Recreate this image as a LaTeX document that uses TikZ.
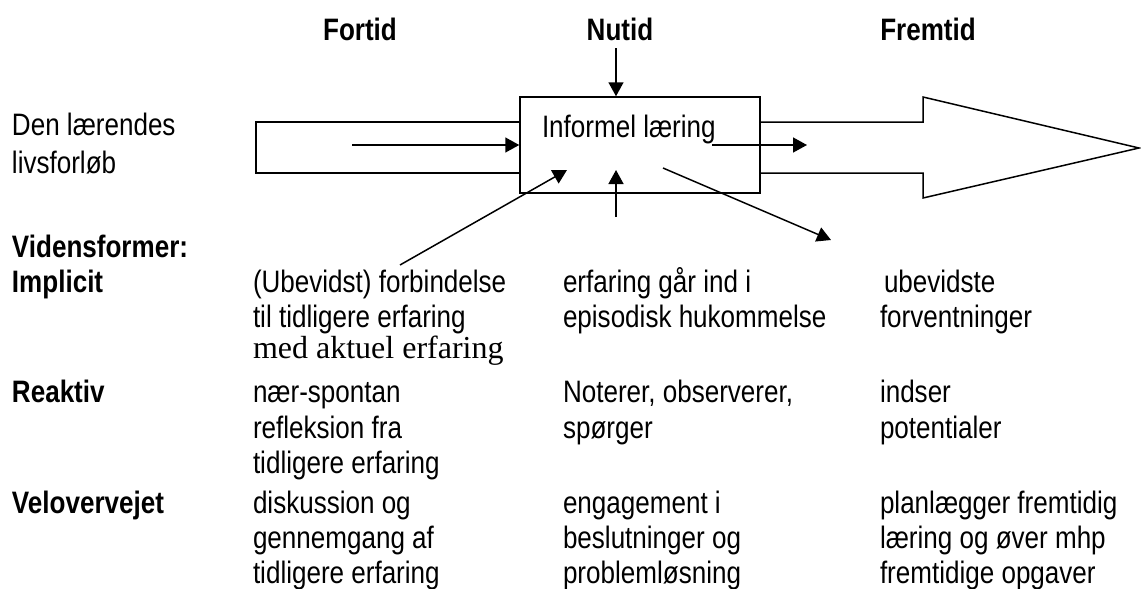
\documentclass[tikz,border=0pt]{standalone}
\usepackage{fontspec}
\setmainfont{Liberation Sans}[FakeStretch=0.84]
\newfontfamily\serifface{Liberation Serif}
\usetikzlibrary{arrows.meta}

\tikzset{
  txt/.style={anchor=base west, inner sep=0pt, outer sep=0pt,
              font=\fontsize{31}{36}\selectfont},
  head/.style={anchor=base, inner sep=0pt, outer sep=0pt,
               font=\fontsize{31}{36}\selectfont\bfseries},
  lbl/.style={txt, font=\fontsize{31}{36}\selectfont\bfseries},
  outline/.style={line width=1.5pt, line join=miter},
  arr/.style={line width=1.5pt, -{Triangle[length=14pt,width=15pt]}},
}

\begin{document}
\begin{tikzpicture}[x=1pt, y=-1pt]
\useasboundingbox (0,0) rectangle (1141,589);

% time headings
\node[head] (fortid)  at (360,40) {Fortid};
\node[head] (nutid)   at (620,40) {Nutid};
\node[head] (fremtid) at (928,40) {Fremtid};

% the learner's life course
\node[txt] (den)  at (12,135) {Den lærendes};
\node[txt] (livs) at (12,173) {livsforløb};

% central box: informal learning
\node[draw, outline, minimum width=240pt, minimum height=96pt,
      inner sep=0pt] (box) at (640,145) {};
\node[txt] (inf) at (542,137) {Informel læring};

% past bar and future arrow
\draw[outline] (box.west |- 0,122) -- (256,122) -- (256,173) -- (box.west |- 0,173);
\draw[outline] (box.east |- 0,122) -- (923,122) -- (923,97) -- (1139,148)
               -- (923,198) -- (923,173) -- (box.east |- 0,173);

% connector end points
\coordinate (pastin)  at (352,145);
\coordinate (ntop)    at (616,48);
\coordinate (nbot)    at (616,217);
\coordinate (nbotend) at (616,170);
\coordinate (futs)    at (712,145);
\coordinate (fute)    at (807,145);
\coordinate (links)   at (400,265);
\coordinate (linke)   at (567,170);
\coordinate (epis)    at (663,168);
\coordinate (epie)    at (831,240);

\draw[arr] (pastin) -- (box.west);
\draw[arr] (ntop) -- (ntop |- box.north);
\draw[arr] (nbot) -- (nbotend);
\draw[arr] (futs) -- (fute);
\draw[arr] (links) -- (linke);
\draw[arr] (epis) -- (epie);

% forms of knowledge: row labels
\node[lbl] (vf)   at (12,257) {Vidensformer:};
\node[lbl] (impl) at (12,292) {Implicit};
\node[lbl] (reak) at (12,402) {Reaktiv};
\node[lbl] (velo) at (12,513) {Velovervejet};

% past column
\node[txt] (p1) at (253,292) {(Ubevidst) forbindelse};
\node[txt] (p2) at (253,327) {til tidligere erfaring};
\node[txt, font=\fontsize{32}{36}\selectfont\serifface] (p3) at (253,358) {med aktuel erfaring};
\node[txt] (p4) at (253,402) {nær-spontan};
\node[txt] (p5) at (253,438) {refleksion fra};
\node[txt] (p6) at (253,473) {tidligere erfaring};
\node[txt] (p7) at (253,513) {diskussion og};
\node[txt] (p8) at (253,548) {gennemgang af};
\node[txt] (p9) at (253,583) {tidligere erfaring};

% present column
\node[txt] (n1) at (563,292) {erfaring går ind i};
\node[txt] (n2) at (563,327) {episodisk hukommelse};
\node[txt] (n3) at (563,402) {Noterer, observerer,};
\node[txt] (n4) at (563,438) {spørger};
\node[txt] (n5) at (563,513) {engagement i};
\node[txt] (n6) at (563,548) {beslutninger og};
\node[txt] (n7) at (563,583) {problemløsning};

% future column
\node[txt] (f1) at (884,292) {ubevidste};
\node[txt] (f2) at (880,327) {forventninger};
\node[txt] (f3) at (880,402) {indser};
\node[txt] (f4) at (880,438) {potentialer};
\node[txt] (f5) at (880,513) {planlægger fremtidig};
\node[txt] (f6) at (880,548) {læring og øver mhp};
\node[txt] (f7) at (880,583) {fremtidige opgaver};
\end{tikzpicture}
\end{document}
